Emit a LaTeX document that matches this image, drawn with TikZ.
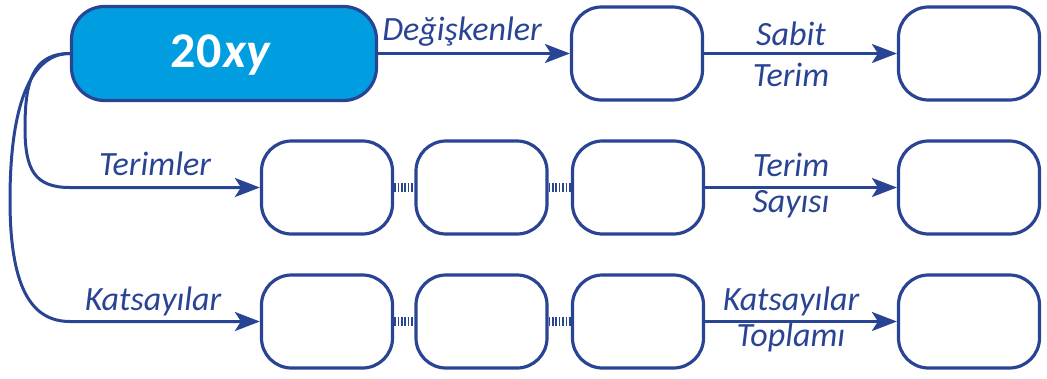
\documentclass[tikz,border=0pt]{standalone}
\usepackage{fontspec}
\setmainfont{Carlito}
\usetikzlibrary{arrows.meta}
\definecolor{navy}{RGB}{42,68,148}
\definecolor{sky}{RGB}{0,158,224}
\begin{document}
\begin{tikzpicture}[x=1pt,y=-1pt,
  box/.style={draw=navy,line width=3.2pt,rounded corners=30pt,fill=white,
    minimum width=131pt,minimum height=93pt,inner sep=0pt},
  endbox/.style={box,minimum width=141pt},
  headbox/.style={box,fill=sky,rounded corners=33pt,minimum width=305pt,minimum height=94pt},
  arr/.style={draw=navy,line width=3pt,-{Stealth[length=25pt,width=19pt,inset=6pt]}},
  dotlink/.style={draw=navy,line width=9pt,dash pattern=on 1.6pt off 1.8pt},
  lbl/.style={text=navy,font=\fontsize{34}{36}\selectfont\itshape,anchor=base,inner sep=0pt}]
\useasboundingbox (0,0) rectangle (1047,378);

% top row
\node[headbox] (main) at (224,53.5) {};
\node[text=white,font=\fontsize{50}{52}\selectfont\bfseries] (mainlbl) at (221,55) {20\kern2pt\textit{xy}};
\node[box] (a2) at (637,53.5) {};
\node[endbox] (a3) at (969,53.5) {};

% middle row
\node[box] (b1) at (327,187.5) {};
\node[box] (b2) at (481.5,187.5) {};
\node[box] (b3) at (638,187.5) {};
\node[endbox] (b4) at (969,187.5) {};

% bottom row
\node[box] (c1) at (327,321.5) {};
\node[box] (c2) at (481.5,321.5) {};
\node[box] (c3) at (638,321.5) {};
\node[endbox] (c4) at (969,321.5) {};

% horizontal arrows
\draw[arr] (main.east) -- (a2.west);
\draw[arr] (a2.east) -- (a3.west);
\draw[arr] (b3.east) -- (b4.west);
\draw[arr] (c3.east) -- (c4.west);

% dotted links between term boxes
\draw[dotlink] (b1.east) -- (b2.west);
\draw[dotlink] (b2.east) -- (b3.west);
\draw[dotlink] (c1.east) -- (c2.west);
\draw[dotlink] (c2.east) -- (c3.west);

% branches from the head box
\coordinate (kin) at (25,128);
\coordinate (kout) at (10,200);
\draw[arr] (main.west) .. controls +(-38,0) and +(0,-45) .. (kin)
  .. controls +(0,42) and +(-35,0) .. ([xshift=-190pt]b1.west) -- (b1.west);
\draw[arr] (main.west) .. controls +(-45,0) and +(0,-80) .. (kout)
  .. controls +(0,85) and +(-40,0) .. ([xshift=-190pt]c1.west) -- (c1.west);

% labels
\node[lbl] (l1) at (462,40) {Değişkenler};
\node[lbl] (l2) at (791,45) {Sabit};
\node[lbl] (l3) at (791,86) {Terim};
\node[lbl] (l4) at (155,175) {Terimler};
\node[lbl] (l5) at (791,176) {Terim};
\node[lbl] (l6) at (791,212) {Sayısı};
\node[lbl] (l7) at (153,310) {Katsayılar};
\node[lbl] (l8) at (791,310) {Katsayılar};
\node[lbl] (l9) at (791,346) {Toplamı};
\end{tikzpicture}
\end{document}
